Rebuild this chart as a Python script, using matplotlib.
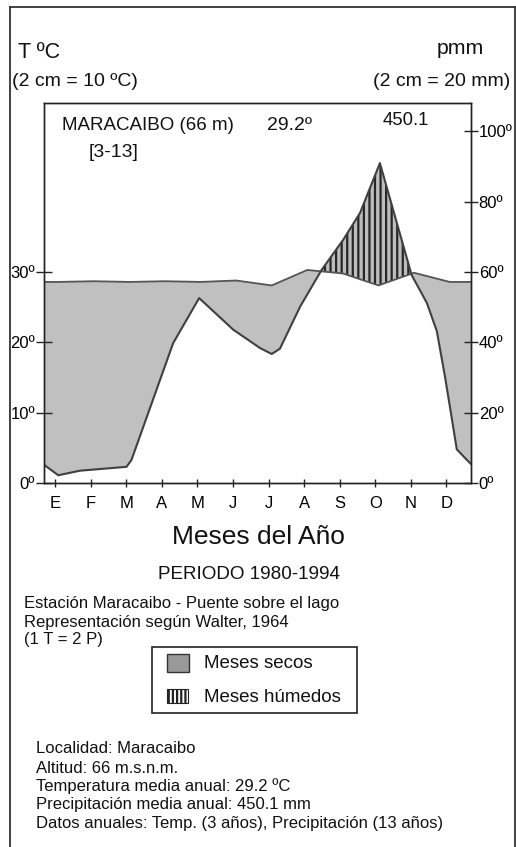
import numpy as np
import matplotlib
matplotlib.use('Agg')
import matplotlib.pyplot as plt
from matplotlib.patches import Rectangle
from matplotlib.lines import Line2D

plt.rcParams['font.family'] = ['Liberation Sans', 'DejaVu Sans']
plt.rcParams['hatch.linewidth'] = 1.6

W, H = 516, 847

# ---------------- data ----------------
months = ['E', 'F', 'M', 'A', 'M', 'J', 'J', 'A', 'S', 'O', 'N', 'D']
temp_c = [28.6, 28.7, 28.6, 28.7, 28.6, 28.8, 28.1, 30.3, 29.8, 28.1, 29.9, 28.6]
temp_edges = [28.6, 28.6]          # curve value at the left / right border
# precipitation curve as traced (position in months, mm)
prec_pos = [0.00, 0.40, 1.01, 2.32, 2.46, 3.63, 4.36, 5.32, 6.07, 6.40, 6.63,
            7.20, 7.80, 8.41, 8.88, 9.44, 10.33, 10.76, 11.04, 11.27, 11.46,
            11.60, 11.88, 12.00]
prec_mm = [5.2, 2.2, 3.5, 4.6, 6.6, 39.8, 52.6, 43.6, 38.4, 36.7, 38.2,
           50.2, 60.6, 69.2, 76.8, 91.0, 59.2, 51.2, 43.2, 30.2, 18.4,
           9.6, 6.6, 5.4]
t_ticks = [0, 10, 20, 30]
p_ticks = [0, 20, 40, 60, 80, 100]

# ---------------- figure ----------------
fig = plt.figure(figsize=(W / 100, H / 100), dpi=100)


def px_box(x0, y0, x1, y1):
    return [x0 / W, 1 - y1 / H, (x1 - x0) / W, (y1 - y0) / H]


ax = fig.add_axes(px_box(44, 103, 471, 483))
TMAX = 54.05
ax.set_xlim(0, 12)
ax.set_ylim(0, TMAX)

tx = np.array([0.0] + [i + 0.4 for i in range(12)] + [12.0])
ty = np.array([temp_edges[0]] + temp_c + [temp_edges[1]])
px_ = np.array(prec_pos)
py_ = np.array(prec_mm) / 2.0   # 1 T = 2 P

xf = np.union1d(np.linspace(0, 12, 2401), np.concatenate([tx, px_]))
tf = np.interp(xf, tx, ty)
pf = np.interp(xf, px_, py_)

ax.fill_between(xf, pf, tf, where=tf >= pf, interpolate=True,
                facecolor='#c0c0c0', linewidth=0)
ax.fill_between(xf, tf, pf, where=pf >= tf, interpolate=True,
                facecolor='#bdbdbd', edgecolor='#262626', hatch='|||',
                linewidth=0)
ax.plot(tx, ty, color='#555555', lw=1.3)
ax.plot(px_, py_, color='#404040', lw=1.5)

for s in ax.spines.values():
    s.set_linewidth(1.0)
    s.set_color('#222222')

ax.set_xticks([i + 0.31 for i in range(12)])
ax.set_xticklabels(months, fontsize=12)
ax.tick_params(axis='x', direction='inout', length=6, width=1.0, pad=6,
               color='#222222')
ax.set_yticks(t_ticks)
ax.set_yticklabels([f'{v}º' for v in t_ticks], fontsize=12)
ax.tick_params(axis='y', direction='inout', length=12, width=1.0, pad=0.5,
               color='#222222')

ax2 = ax.twinx()
ax2.set_ylim(0, 2 * TMAX)
ax2.set_yticks(p_ticks)
ax2.set_yticklabels([f'{v}º' for v in p_ticks], fontsize=12)
ax2.tick_params(axis='y', direction='inout', length=10, width=1.0, pad=0.5,
                color='#222222')
for s in ax2.spines.values():
    s.set_linewidth(1.0)
    s.set_color('#222222')


def ftext(x, y, s, size, ha='left'):
    fig.text(x / W, 1 - y / H, s, fontsize=size, ha=ha, va='baseline',
             color='#111111')


ftext(18, 58.3, 'T ºC', 15.5)
ftext(437, 54.3, 'pmm', 15.3)
ftext(12, 85.7, '(2 cm = 10 ºC)', 14)
ftext(373, 85.7, '(2 cm = 20 mm)', 14)
ftext(61.7, 130, 'MARACAIBO (66 m)', 13.5)
ftext(88.3, 156.7, '[3-13]', 14)
ftext(266.7, 130, '29.2º', 14)
ftext(383, 125, '450.1', 13.3)
ftext(172, 543.5, 'Meses del Año', 19)
ftext(158.3, 579.3, 'PERIODO 1980-1994', 13.6)
ftext(24, 607.7, 'Estación Maracaibo - Puente sobre el lago', 12)
ftext(24, 627.3, 'Representación según Walter, 1964', 12)
ftext(24, 644.3, '(1 T = 2 P)', 12)
ftext(204, 668.3, 'Meses secos', 13.5)
ftext(204, 702, 'Meses húmedos', 13.5)
info = ['Localidad: Maracaibo',
        'Altitud: 66 m.s.n.m.',
        'Temperatura media anual: 29.2 ºC',
        'Precipitación media anual: 450.1 mm',
        'Datos anuales: Temp. (3 años), Precipitación (13 años)']
for yb, line in zip([752.7, 772.7, 790.7, 809, 827.7], info):
    ftext(36, yb, line, 12)

# legend box and symbols
fig.add_artist(Rectangle((152 / W, 1 - 713 / H), (357 - 152) / W, (713 - 647) / H,
                         transform=fig.transFigure, fill=False,
                         edgecolor='#222222', lw=1.2))
fig.add_artist(Rectangle((167 / W, 1 - 672 / H), 22 / W, 18 / H,
                         transform=fig.transFigure, facecolor='#999999',
                         edgecolor='#333333', lw=1.0))
fig.add_artist(Rectangle((167 / W, 1 - 702.5 / H), 21 / W, 14 / H,
                         transform=fig.transFigure, facecolor='white',
                         edgecolor='#222222', hatch='||||', lw=0.8))

# outer frame
fr = dict(transform=fig.transFigure, color='#333333', lw=1.3)
fig.add_artist(Line2D([10 / W, 10 / W], [0, 1 - 7.5 / H], **fr))
fig.add_artist(Line2D([10 / W, 514.5 / W], [1 - 7.5 / H, 1 - 7.5 / H], **fr))
fig.add_artist(Line2D([514.5 / W, 514.5 / W], [0, 1 - 7.5 / H], **fr))

fig.savefig('out.png', dpi=100)
